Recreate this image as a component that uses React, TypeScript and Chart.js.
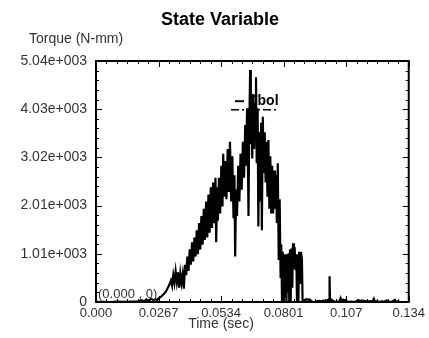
import React, { useEffect, useRef } from 'react';
import { Chart, registerables } from 'chart.js';

Chart.register(...registerables);

const chartTitle = 'State Variable';
const yAxisTitle = 'Torque (N-mm)';
const xAxisTitle = 'Time (sec)';
const seriesName = 'Tbol';
const originNote = '(0.000 , 0)';

const xTickValues = [0, 0.0267, 0.0534, 0.0801, 0.1068, 0.1335];
const xTickLabels = ['0.000', '0.0267', '0.0534', '0.0801', '0.107', '0.134'];
const yTickValues = [0, 1008, 2016, 3024, 4032, 5040];
const yTickLabels = ['0', '1.01e+003', '2.01e+003', '3.02e+003', '4.03e+003', '5.04e+003'];

const timeSec = [
  0.0000, 0.0030, 0.0060, 0.0090, 0.0120, 0.0150, 0.0180, 0.0195, 0.0205, 0.0215,
  0.0225, 0.0235, 0.0245, 0.0255, 0.0262, 0.0268, 0.0275, 0.0282, 0.0288, 0.0295,
  0.0300, 0.0305, 0.0310, 0.0315, 0.0320, 0.0325, 0.0330, 0.0335, 0.0340, 0.0345,
  0.0350, 0.0355, 0.0360, 0.0365, 0.0370, 0.0375, 0.0380, 0.0385, 0.0390, 0.0395,
  0.0400, 0.0405, 0.0410, 0.0415, 0.0420, 0.0425, 0.0430, 0.0435, 0.0440, 0.0445,
  0.0450, 0.0455, 0.0460, 0.0465, 0.0470, 0.0475, 0.0480, 0.0485, 0.0490, 0.0495,
  0.0500, 0.0505, 0.0510, 0.0513, 0.0517, 0.0520, 0.0525, 0.0530, 0.0535, 0.0540,
  0.0543, 0.0547, 0.0552, 0.0557, 0.0562, 0.0567, 0.0572, 0.0577, 0.0582, 0.0587,
  0.0591, 0.0594, 0.0598, 0.0602, 0.0607, 0.0612, 0.0617, 0.0622, 0.0627, 0.0632,
  0.0637, 0.0641, 0.0645, 0.0648, 0.0651, 0.0654, 0.0658, 0.0661, 0.0664, 0.0667,
  0.0671, 0.0675, 0.0679, 0.0683, 0.0686, 0.0690, 0.0693, 0.0697, 0.0701, 0.0705,
  0.0708, 0.0712, 0.0716, 0.0720, 0.0724, 0.0728, 0.0732, 0.0736, 0.0740, 0.0744,
  0.0748, 0.0752, 0.0756, 0.0760, 0.0764, 0.0768, 0.0772, 0.0776, 0.0780, 0.0784,
  0.0788, 0.0791, 0.0794, 0.0797, 0.0800, 0.0803, 0.0806, 0.0810, 0.0813, 0.0816,
  0.0819, 0.0822, 0.0825, 0.0828, 0.0831, 0.0834, 0.0838, 0.0841, 0.0845, 0.0848,
  0.0851, 0.0855, 0.0858, 0.0861, 0.0864, 0.0867, 0.0871, 0.0875, 0.0879, 0.0882,
  0.0888, 0.0894, 0.0900, 0.0906, 0.0912, 0.0918, 0.0924, 0.0930, 0.0940, 0.0950,
  0.0960, 0.0970, 0.0980, 0.0990, 0.0995, 0.0997, 0.0999, 0.1005, 0.1012, 0.1020,
  0.1030, 0.1040, 0.1044, 0.1048, 0.1055, 0.1060, 0.1065, 0.1070, 0.1080, 0.1090,
  0.1100, 0.1110, 0.1120, 0.1130, 0.1140, 0.1150, 0.1160, 0.1170, 0.1180, 0.1186,
  0.1190, 0.1200, 0.1210, 0.1220, 0.1230, 0.1240, 0.1250, 0.1260, 0.1270, 0.1276,
  0.1282, 0.1290, 0.1297,
];

const torque = [
  0, 5, 0, 8, 3, 10, 15, 40, 10, 55,
  20, 70, 35, 60, 40, 80, 100, 130, 160, 200,
  230, 280, 330, 380, 450, 340, 560, 400, 640, 420,
  620, 300, 600, 400, 580, 280, 780, 560, 950, 650,
  1100, 780, 1250, 850, 1350, 950, 1500, 1000, 1650, 1100,
  1800, 1200, 1950, 1300, 2100, 1350, 2250, 1450, 2400, 1550,
  2500, 1650, 2600, 1250, 2400, 1700, 2600, 1850, 2850, 2000,
  3100, 2200, 2950, 2150, 3200, 2300, 3350, 2100, 3050, 1750,
  2650, 950, 2350, 1800, 2850, 2100, 3100, 2350, 3350, 2600,
  3700, 2850, 4050, 3100, 1800, 3550, 4850, 3300, 4250, 3000,
  4350, 3200, 4150, 4700, 2900, 4050, 1580, 3550, 2100, 3750,
  1500, 3875, 2700, 3550, 2500, 3350, 2200, 3390, 1950, 3050,
  1850, 2850, 1850, 2750, 1950, 2650, 1650, 2900, 880, 2150,
  500, 1200, 0, 1050, 0, 1000, 100, 980, 0, 1000,
  200, 1020, 0, 1100, 0, 1120, 300, 1230, 700, 1150,
  670, 1000, 0, 950, 0, 1050, 400, 1050, 900, 0,
  10, 50, 55, 50, 55, 20, 5, 0, 10, 25,
  15, 30, 20, 40, 60, 540, 30, 50, 20, 10,
  5, 20, 80, 20, 50, 30, 45, 15, 5, 10,
  0, 15, 35, 25, 30, 20, 10, 20, 5, 65,
  10, 20, 0, 15, 5, 30, 10, 0, 25, 45,
  0, 15, 0,
];

const FONT = '"Liberation Sans", Arial, Helvetica, sans-serif';

const decorPlugin = {
  id: 'decor',
  afterDatasetsDraw(chart: any) {
    const { ctx, chartArea: a, scales } = chart;
    const xs = scales.x;
    const ys = scales.y;
    ctx.save();
    ctx.strokeStyle = '#000';
    ctx.lineWidth = 2;
    ctx.strokeRect(a.left, a.top, a.right - a.left, a.bottom - a.top);
    ctx.lineWidth = 1;
    ctx.beginPath();
    for (let i = 0; i < xTickValues.length; i++) {
      const px = Math.round(xs.getPixelForValue(xTickValues[i])) + 0.5;
      ctx.moveTo(px, a.top); ctx.lineTo(px, a.top + 6);
      ctx.moveTo(px, a.bottom); ctx.lineTo(px, a.bottom - 6);
      if (i < xTickValues.length - 1) {
        const step = (xTickValues[i + 1] - xTickValues[i]) / 6;
        for (let k = 1; k < 6; k++) {
          const mx = Math.round(xs.getPixelForValue(xTickValues[i] + step * k)) + 0.5;
          ctx.moveTo(mx, a.top); ctx.lineTo(mx, a.top + 3);
          ctx.moveTo(mx, a.bottom); ctx.lineTo(mx, a.bottom - 3);
        }
      }
    }
    for (let i = 0; i < yTickValues.length; i++) {
      const py = Math.round(ys.getPixelForValue(yTickValues[i])) + 0.5;
      ctx.moveTo(a.left, py); ctx.lineTo(a.left + 6, py);
      ctx.moveTo(a.right, py); ctx.lineTo(a.right - 6, py);
      if (i < yTickValues.length - 1) {
        const step = (yTickValues[i + 1] - yTickValues[i]) / 5;
        for (let k = 1; k < 5; k++) {
          const my = Math.round(ys.getPixelForValue(yTickValues[i] + step * k)) + 0.5;
          ctx.moveTo(a.left, my); ctx.lineTo(a.left + 3, my);
          ctx.moveTo(a.right, my); ctx.lineTo(a.right - 3, my);
        }
      }
    }
    ctx.stroke();

    const legY = ys.getPixelForValue(4032);
    ctx.lineWidth = 2;
    ctx.beginPath();
    ctx.moveTo(235, legY - 8);
    ctx.lineTo(244, legY - 8);
    ctx.stroke();
    ctx.fillStyle = '#000';
    ctx.font = `bold 14px ${FONT}`;
    ctx.textAlign = 'left';
    ctx.textBaseline = 'middle';
    ctx.fillText(seriesName, 249, legY - 8);
    ctx.lineWidth = 1.5;
    ctx.setLineDash([8, 3, 2, 3]);
    ctx.beginPath();
    ctx.moveTo(231, legY + 0.5);
    ctx.lineTo(278, legY + 0.5);
    ctx.stroke();
    ctx.setLineDash([]);

    ctx.fillStyle = '#333';
    ctx.font = `13px ${FONT}`;
    ctx.textAlign = 'left';
    ctx.textBaseline = 'middle';
    ctx.fillText(originNote, a.left + 2, a.bottom - 8);

    ctx.fillStyle = '#000';
    ctx.font = `bold 18px ${FONT}`;
    ctx.textAlign = 'center';
    ctx.fillText(chartTitle, 220, 20);
    ctx.fillStyle = '#333';
    ctx.font = `14px ${FONT}`;
    ctx.textAlign = 'left';
    ctx.fillText(yAxisTitle, 29, 39);
    ctx.textAlign = 'center';
    ctx.fillText(xAxisTitle, 221, 324);
    ctx.restore();
  },
};

export default function App() {
  const ref = useRef<HTMLCanvasElement | null>(null);
  useEffect(() => {
    if (!ref.current) return;
    const points = timeSec.map((t, i) => ({ x: t, y: torque[i] }));
    const chart = new Chart(ref.current, {
      type: 'line',
      data: {
        datasets: [
          {
            label: seriesName,
            data: points,
            borderColor: '#000',
            backgroundColor: '#000',
            borderWidth: 2.2,
            pointRadius: 0,
            tension: 0,
          },
        ],
      },
      options: {
        responsive: false,
        animation: false,
        layout: { padding: { top: 61, right: 17, left: 0, bottom: 0 } },
        plugins: {
          legend: { display: false },
          title: { display: false },
          tooltip: { enabled: false },
        },
        scales: {
          x: {
            type: 'linear',
            min: 0,
            max: 0.1335,
            grid: { display: false, drawTicks: false },
            border: { display: false },
            afterBuildTicks: (s: any) => { s.ticks = xTickValues.map((v) => ({ value: v })); },
            afterFit: (s: any) => { s.height = 36; },
            ticks: {
              autoSkip: false,
              maxRotation: 0,
              padding: 4,
              color: '#333',
              font: { size: 13, family: FONT },
              callback: (_v: any, i: number) => xTickLabels[i],
            },
          },
          y: {
            type: 'linear',
            min: 0,
            max: 5040,
            grid: { display: false, drawTicks: false },
            border: { display: false },
            afterBuildTicks: (s: any) => { s.ticks = yTickValues.map((v) => ({ value: v })); },
            afterFit: (s: any) => { s.width = 96; },
            ticks: {
              autoSkip: false,
              padding: 9,
              color: '#333',
              font: { size: 14, family: FONT },
              callback: (_v: any, i: number) => yTickLabels[i],
            },
          },
        },
      },
      plugins: [decorPlugin],
    });
    return () => chart.destroy();
  }, []);
  return (
    <div style={{ position: 'fixed', left: 0, top: 0, width: 429, height: 338, background: '#fff' }}>
      <canvas ref={ref} width={429} height={338} style={{ display: 'block' }} />
    </div>
  );
}
